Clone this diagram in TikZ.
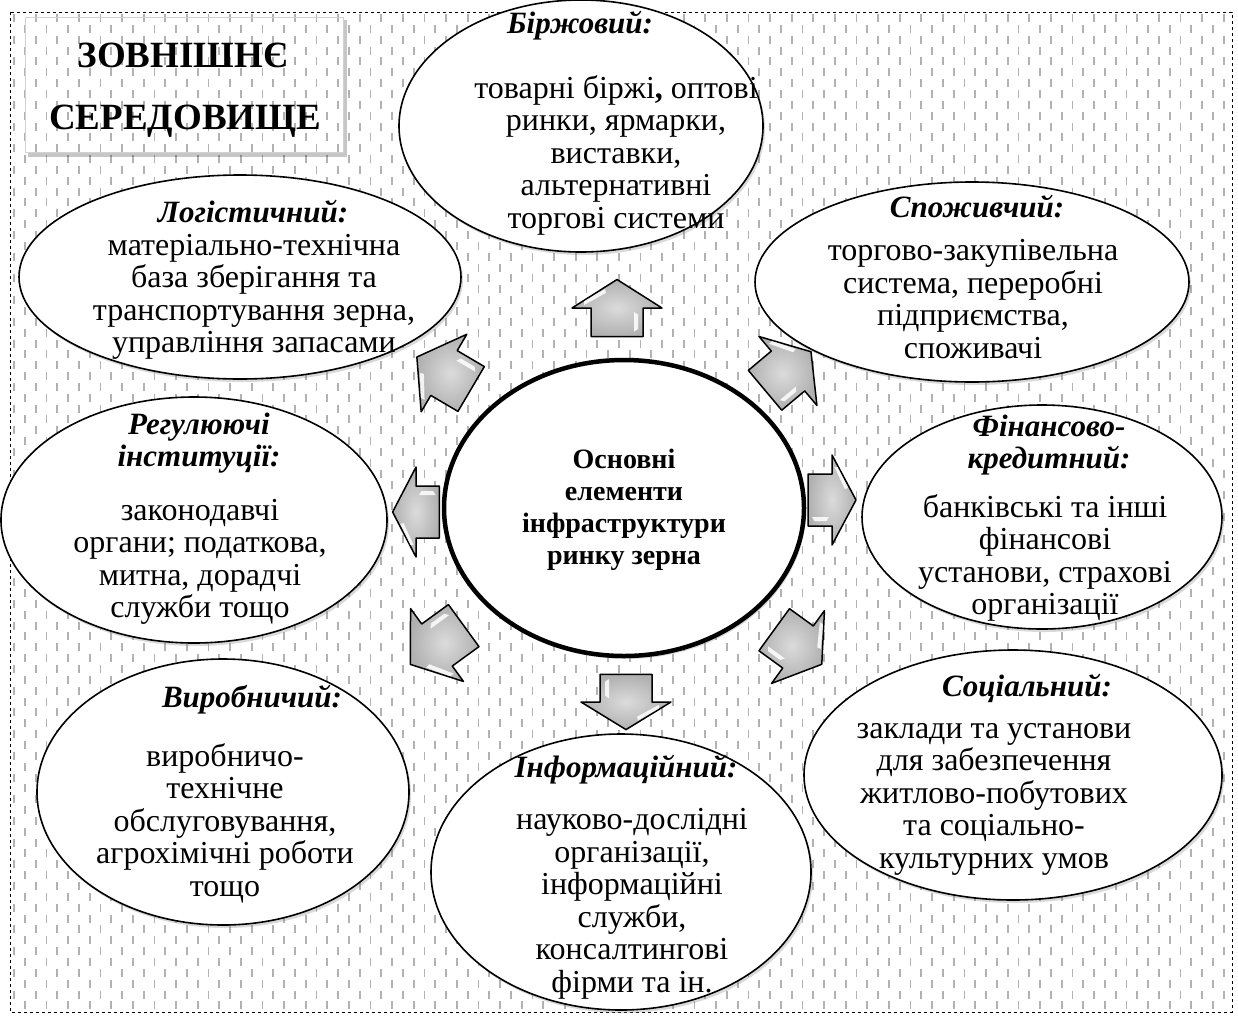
\documentclass[tikz,border=0pt]{standalone}
\usepackage{fontspec}
\setmainfont{Liberation Serif}
\usetikzlibrary{shapes.geometric,shadows}

\tikzset{
  oval/.style={ellipse, draw=black, line width=1.6pt, fill=white, inner sep=0pt,
    drop shadow={shadow xshift=2pt, shadow yshift=-3pt, opacity=0.3}},
  ttl/.style={font=\fontsize{31}{32.5}\selectfont\bfseries\itshape, align=center, inner sep=0pt},
  body/.style={font=\fontsize{32}{32.5}\selectfont, align=center, inner sep=0pt},
  arrowfill/.style={draw=black, line width=1.5pt, line join=round, inner color=gray!28, outer color=gray!62},
  fatarrow/.pic={
    \shadedraw[arrowfill] (-30,-26) -- (0,-26) -- (0,-45) -- (30,0) -- (0,45) -- (0,26) -- (-30,26) -- cycle;
    \fill[white, opacity=0.85] (3,-33) -- (7,-33) -- (20,-12) -- (16,-11) -- cycle;
    \fill[white, opacity=0.85] (-25,17) -- (-4,17) -- (-7,21) -- (-22,21) -- cycle;
  }
}

\begin{document}
\begin{tikzpicture}[x=1pt,y=-1pt]
\useasboundingbox (0,0) rectangle (1238,1015);
% background pattern
\foreach \i in {0,...,112}{
  \pgfmathsetmacro{\px}{14+10.8*\i}
  \pgfmathsetmacro{\py}{14+10.85*mod(\i,2)}
  \draw[black!30, line width=1.8pt] foreach \j in {0,...,45}{ (\px,\py+21.7*\j) -- ++(0,8) };
}
\draw[dashed, line width=1pt] (10,12) rectangle (1232,1012);

% title box
\fill[black, opacity=0.22] (28,152) rectangle (347,157);
\fill[black, opacity=0.22] (343,20) rectangle (347,152);
\draw[gray!35, line width=0.8pt] (25,17) rectangle (343,152);
\node[font=\fontsize{37}{40}\selectfont\bfseries, inner sep=0pt] (t1) at (183,55) {ЗОВНІШНЄ};
\node[font=\fontsize{37}{40}\selectfont\bfseries, inner sep=0pt] (t2) at (185,121) {СЕРЕДОВИЩЕ};

% elements
\node[oval, minimum width=364pt, minimum height=252pt] (birzh) at (581,126) {};
\node[oval, minimum width=442pt, minimum height=204pt] (logist) at (240,277) {};
\node[oval, minimum width=434pt, minimum height=200pt] (spozh) at (972,282) {};
\node[oval, minimum width=386pt, minimum height=246pt] (regul) at (194,520) {};
\node[oval, minimum width=360pt, minimum height=224pt] (fin) at (1042,517) {};
\node[oval, minimum width=372pt, minimum height=266pt] (vyrob) at (223,792) {};
\node[oval, minimum width=418pt, minimum height=250pt] (social) at (1013,775) {};
\node[oval, minimum width=380pt, minimum height=276pt] (inform) at (621,872) {};
\node[oval, line width=4.5pt, minimum width=360pt, minimum height=296pt] (core) at (624,508) {};

\node[ttl] (birzh-t) at (580,26) {Біржовий:};
\node[body] (birzh-b) at (616,155) {товарні біржі\textbf{,} оптові\\ринки, ярмарки,\\виставки,\\альтернативні\\торгові системи};
\node[ttl] (logist-t) at (253,212) {Логістичний:};
\node[body] (logist-b) at (254,297) {матеріально-технічна\\база зберігання та\\транспортування зерна,\\управління запасами};
\node[ttl] (spozh-t) at (977,207) {Споживчий:};
\node[body] (spozh-b) at (973,299) {торгово-закупівельна\\система, переробні\\підприємства,\\споживачі};
\node[ttl] (regul-t) at (199,443) {Регулюючі\\інституції:};
\node[body] (regul-b) at (200,562) {законодавчі\\органи; податкова,\\митна, дорадчі\\служби тощо};
\node[ttl, font=\fontsize{28}{32}\selectfont\bfseries] (core-t) at (624,510) {Основні\\елементи\\інфраструктури\\ринку зерна};
\node[ttl] (fin-t) at (1049,445) {Фінансово-\\кредитний:};
\node[body] (fin-b) at (1045,558) {банківські та інші\\фінансові\\установи, страхові\\організації};
\node[ttl] (vyrob-t) at (252,700) {Виробничий:};
\node[body] (vyrob-b) at (225,823) {виробничо-\\технічне\\обслуговування,\\агрохімічні роботи\\тощо};
\node[ttl] (inform-t) at (626,770) {Інформаційний:};
\node[body] (inform-b) at (632,904) {науково-дослідні\\організації,\\інформаційні\\служби,\\консалтингові\\фірми та ін.};
\node[ttl] (social-t) at (1027,688) {Соціальний:};
\node[body] (social-b) at (994,799) {заклади та установи\\для забезпечення\\житлово-побутових\\та соціально-\\культурних умов};

% arrows
\pic[rotate=90, xscale=0.95] at (617,308) {fatarrow};
\pic[rotate=-90, xscale=0.92] at (626,702) {fatarrow};
\pic[rotate=180, xscale=0.78] at (416,512) {fatarrow};
\pic[rotate=0, xscale=0.8] at (832,500) {fatarrow};
\pic[rotate=149.5, xscale=1.05] at (444,373) {fatarrow};
\pic[rotate=40, xscale=1.0] at (788,371) {fatarrow};
\pic[rotate=216, xscale=1.1] at (437,645) {fatarrow};
\pic[rotate=-36, xscale=0.98] at (798,647) {fatarrow};
\end{tikzpicture}
\end{document}
